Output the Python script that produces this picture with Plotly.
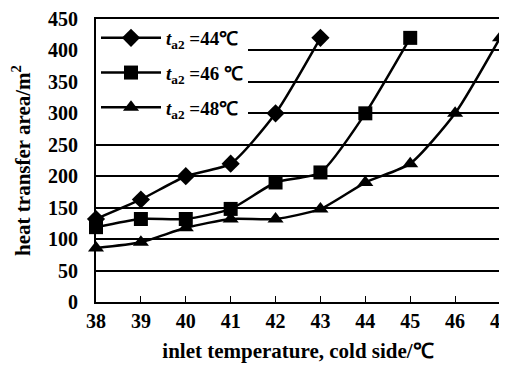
import plotly.graph_objects as go

temps_44 = [38, 39, 40, 41, 42, 43]
area_44 = [132, 163, 200, 220, 300, 420]
temps_46 = [38, 39, 40, 41, 42, 43, 44, 45]
area_46 = [119, 132, 132, 148, 190, 206, 300, 420]
temps_48 = [38, 39, 40, 41, 42, 43, 44, 45, 46, 47]
area_48 = [86, 95, 118, 132, 132, 148, 190, 220, 300, 420]
labels = ["<i>t</i><sub>a2</sub> =44℃", "<i>t</i><sub>a2</sub> =46 ℃", "<i>t</i><sub>a2</sub> =48℃"]
symbols = ["diamond", "square", "triangle-up"]

FONT = "Liberation Serif"

fig = go.Figure()
for i, (x, y, name, sym) in enumerate(zip([temps_44, temps_46, temps_48],
                                          [area_44, area_46, area_48], labels, symbols)):
    fig.add_trace(go.Scatter(
        x=x, y=y, name=name, mode="lines+markers", legendgroup=f"g{i}",
        line=dict(color="black", width=2.5, shape="spline", smoothing=0.6),
        marker=dict(symbol=sym, size=14, color="black"),
        cliponaxis=False,
    ))

# page body has an 8px default margin, so the figure is sized to fit the window
fig.update_layout(
    width=499, height=358,
    margin=dict(l=88, r=7, t=11, b=64, autoexpand=False),
    paper_bgcolor="white", plot_bgcolor="white",
    font=dict(family=FONT, color="black", size=20, weight="bold"),
    showlegend=True,
    legend=dict(x=0.0, y=1.0, xanchor="left", yanchor="top",
                bgcolor="white", borderwidth=0, itemwidth=60,
                font=dict(size=19, family=FONT, weight="bold"),
                tracegroupgap=7),
    xaxis=dict(range=[38, 47], tickmode="linear", tick0=38, dtick=1,
               automargin=False, ticklabeloverflow="allow",
               showgrid=False, zeroline=False, showline=True, linecolor="black",
               linewidth=2, mirror=True, ticks="inside", ticklen=6, tickcolor="black",
               tickfont=dict(size=20, family=FONT, weight="bold"),
               title=dict(text="inlet temperature, cold side/℃",
                          font=dict(size=21, family=FONT, weight="bold"), standoff=12)),
    yaxis=dict(range=[0, 450], tickmode="linear", tick0=0, dtick=50,
               automargin=False, ticklabeloverflow="allow",
               showgrid=True, gridcolor="black", gridwidth=1.5, zeroline=False,
               showline=True, linecolor="black", linewidth=2, mirror=True,
               ticklabelstandoff=12,
               tickfont=dict(size=20, family=FONT, weight="bold"),
               title=dict(text="heat transfer area/m<sup>2</sup>",
                          font=dict(size=21, family=FONT, weight="bold"), standoff=14)),
)
fig.write_html("out.html")
